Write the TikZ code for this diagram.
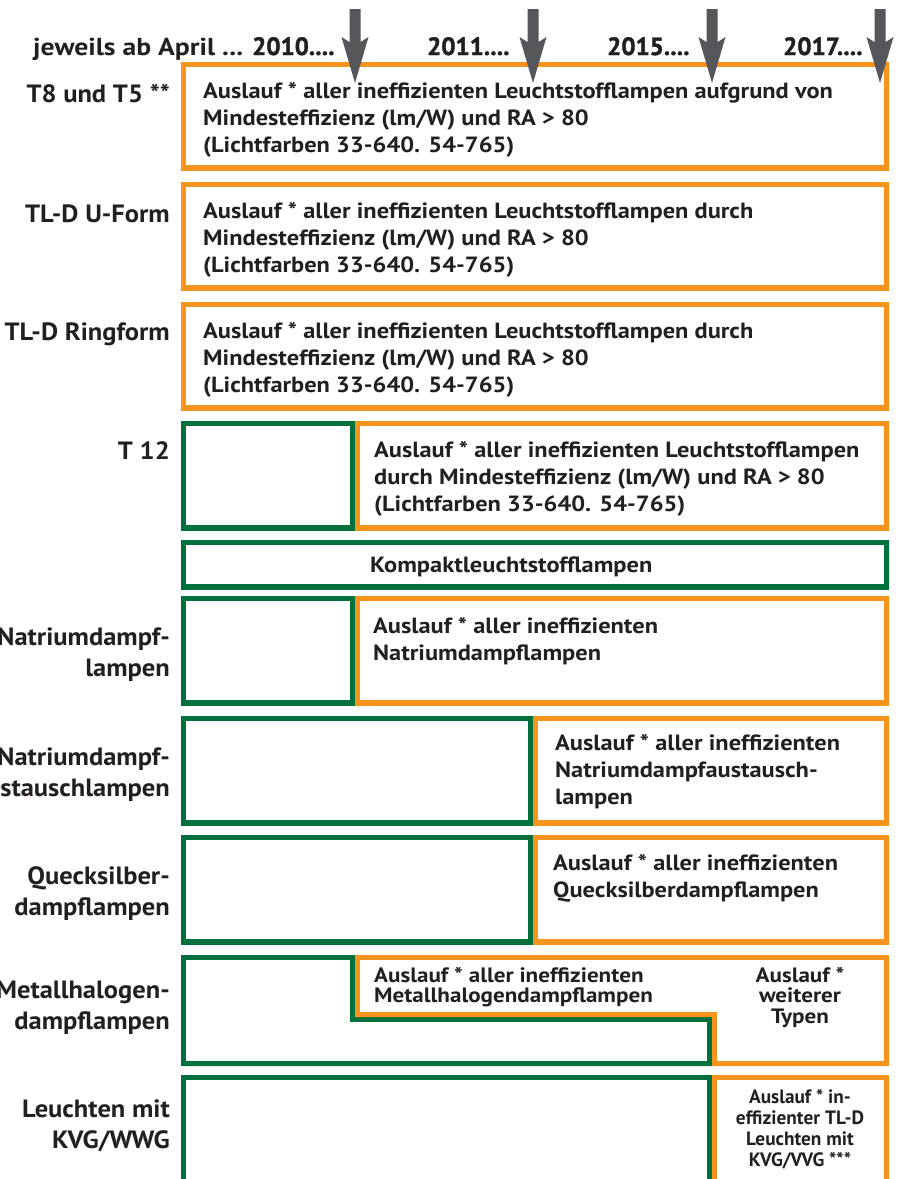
\documentclass[tikz,border=0pt]{standalone}
\usepackage{fontspec}
\setmainfont{PT Sans}
\newfontfamily\heavyf{PT Sans}[BoldFeatures={FakeBold=1.6}]
\newfontfamily\boxf{PT Sans}[FakeStretch=1.11]
\newfontfamily\lblf{PT Sans}[FakeStretch=1.06]
\newfontfamily\hdrf{PT Sans}[FakeStretch=1.13]
\definecolor{og}{HTML}{F7941D}
\definecolor{gr}{HTML}{00703C}
\definecolor{ar}{HTML}{55575A}
\definecolor{tx}{HTML}{231F20}
\newcommand{\toprl}[1]{\rule{0pt}{#1}}
\tikzset{
  boxtxt/.style={font=\boxf\fontsize{22}{27}\selectfont\bfseries, text=tx, inner sep=0pt, align=left, anchor=north west},
  smalltxt/.style={font=\boxf\fontsize{20.8}{20.5}\selectfont\bfseries, text=tx, inner sep=0pt, align=left, anchor=north west},
  condtxt/.style={font=\fontsize{19.3}{21}\selectfont\bfseries, text=tx, inner sep=0pt, align=center, anchor=north},
  lbl/.style={font=\lblf\fontsize{25}{31}\selectfont\bfseries, text=tx, inner sep=0pt, align=right, anchor=north east},
  hdr/.style={font=\hdrf\fontsize{24.5}{28}\selectfont\bfseries, text=tx, inner sep=0pt, anchor=base west},
  yr/.style={font=\heavyf\fontsize{25}{28}\selectfont\bfseries, text=tx, inner sep=0pt, anchor=base west},
  arrowshape/.style={fill=ar, draw=none},
}
% inset outline: stroke lies fully inside the given closed path
\newcommand{\inset}[2]{\begin{scope}\clip #2;\draw[#1, line width=10pt, line join=miter] #2;\end{scope}}
\newcommand{\darrow}[2]{\fill[arrowshape] (#1-5.5,9) -- (#1+5.5,9) -- (#1+5.5,42) -- (#1+13.5,37) -- (#1,83) -- (#1-13.5,37) -- (#1-5.5,42) -- cycle coordinate (#2) at (#1,83);}
\begin{document}
\begin{tikzpicture}[x=1pt,y=-1pt]
\useasboundingbox (0,0) rectangle (897,1179);
\fill[white] (0,0) rectangle (897,1179);
\clip (0,0) rectangle (897,1179);

% rows 1-3 (orange full width)
\inset{og}{(181,62) rectangle (889,170)}
\inset{og}{(181,182) rectangle (889,290)}
\inset{og}{(181,302) rectangle (889,410)}
% row 4
\inset{gr}{(181,421) rectangle (355,530)}
\inset{og}{(355,421) rectangle (889,530)}
% row 5
\inset{gr}{(181,540) rectangle (889,589)}
% row 6
\inset{gr}{(181,596) rectangle (355,705)}
\inset{og}{(355,596) rectangle (889,705)}
% row 7
\inset{gr}{(181,716) rectangle (533,825)}
\inset{og}{(533,716) rectangle (889,825)}
% row 8
\inset{gr}{(181,835) rectangle (533,944)}
\inset{og}{(533,835) rectangle (889,944)}
% row 9
\inset{gr}{(181,955) -- (355,955) -- (355,1017) -- (712,1017) -- (712,1066) -- (181,1066) -- cycle}
\inset{og}{(355,955) -- (889,955) -- (889,1066) -- (712,1066) -- (712,1017) -- (355,1017) -- cycle}
% row 10
\inset{gr}{(181,1075) rectangle (712,1190)}
\inset{og}{(712,1075) rectangle (889,1190)}

% header
\node[hdr] (hd) at (33,55) {jeweils ab April ...};
\node[yr] (y10) at (252,55) {2010....};
\node[yr] (y11) at (427,55) {2011....};
\node[yr] (y15) at (607,55) {2015....};
\node[yr] (y17) at (783,55) {2017....};

% arrows
\darrow{355}{a1}
\darrow{533}{a2}
\darrow{712}{a3}
\darrow{880}{a4}

% labels
\node[lbl] (l1) at (170,78) {\toprl{24pt}T8 und T5 **};
\node[lbl] (l2) at (170,198) {\toprl{24pt}TL-D U-Form};
\node[lbl] (l3) at (170,316) {\toprl{24pt}TL-D Ringform};
\node[lbl] (l4) at (170,435) {\toprl{24pt}T 12};
\node[lbl] (l6) at (170,621) {\toprl{24pt}Natriumdampf-\\lampen};
\node[lbl] (l7) at (170,741) {\toprl{24pt}Natriumdampf-\\austauschlampen};
\node[lbl] (l8) at (170,860) {\toprl{24pt}Quecksilber-\\dampflampen};
\node[lbl] (l9) at (170,974) {\toprl{24pt}Metallhalogen-\\dampflampen};
\node[lbl] (l10) at (170,1093) {\toprl{24pt}Leuchten mit\\KVG/WWG};

% box texts
\node[boxtxt] (t1) at (203,78) {\toprl{20pt}Auslauf * aller ineffizienten Leuchtstofflampen aufgrund von\\Mindesteffizienz (lm/W) und RA > 80\\(Lichtfarben 33-640. 54-765)};
\node[boxtxt] (t2) at (203,198) {\toprl{20pt}Auslauf * aller ineffizienten Leuchtstofflampen durch\\Mindesteffizienz (lm/W) und RA > 80\\(Lichtfarben 33-640. 54-765)};
\node[boxtxt] (t3) at (203,318) {\toprl{20pt}Auslauf * aller ineffizienten Leuchtstofflampen durch\\Mindesteffizienz (lm/W) und RA > 80\\(Lichtfarben 33-640. 54-765)};
\node[boxtxt] (t4) at (374,437) {\toprl{20pt}Auslauf * aller ineffizienten Leuchtstofflampen\\durch Mindesteffizienz (lm/W) und RA > 80\\(Lichtfarben 33-640. 54-765)};
\node[boxtxt, anchor=base west] (t5) at (370,572) {Kompaktleuchtstofflampen};
\node[boxtxt] (t6) at (373,613) {\toprl{20pt}Auslauf * aller ineffizienten\\Natriumdampflampen};
\node[boxtxt] (t7) at (555,730) {\toprl{20pt}Auslauf * aller ineffizienten\\Natriumdampfaustausch-\\lampen};
\node[boxtxt] (t8) at (553,850) {\toprl{20pt}Auslauf * aller ineffizienten\\Quecksilberdampflampen};
\node[smalltxt] (t9) at (374,965) {\toprl{17pt}Auslauf * aller ineffizienten\\Metallhalogendampflampen};
\node[smalltxt, align=center, anchor=north] (t9b) at (800,965) {\toprl{17pt}Auslauf *\\weiterer\\Typen};
\node[condtxt] (t10) at (800,1086) {\toprl{17pt}Auslauf * in-\\effizienter TL-D\\Leuchten mit\\KVG/VVG ***};
\end{tikzpicture}
\end{document}
